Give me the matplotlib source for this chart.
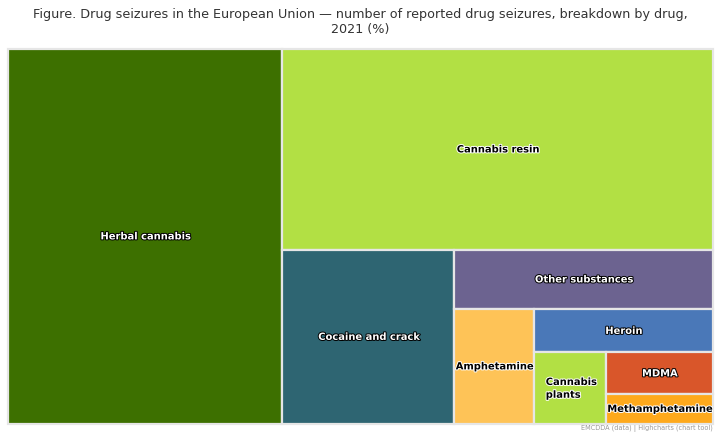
import matplotlib
matplotlib.use("Agg")
import matplotlib.pyplot as plt
from matplotlib.patches import Rectangle
import matplotlib.patheffects as pe

categories = ["Herbal cannabis", "Cannabis resin", "Cocaine and crack", "Other substances",
              "Amphetamine", "Heroin", "Cannabis\nplants", "MDMA", "Methamphetamine"]
values = [38.95, 32.72, 11.30, 5.77, 3.47, 2.97, 1.93, 1.66, 1.21]
colors = ["#3d7000", "#b2e044", "#2e6572", "#6c6390", "#fec357",
          "#4a78b8", "#b2e044", "#d9562a", "#fea91c"]
text_colors = ["white", "black", "white", "white", "black", "white", "black", "white", "black"]
title = "Figure. Drug seizures in the European Union \u2014 number of reported drug seizures, breakdown by drug,\n2021 (%)"
credit = "EMCDDA (data) | Highcharts (chart tool)"

plt.rcParams["font.family"] = "DejaVu Sans"
fig = plt.figure(figsize=(7.2, 4.35), dpi=100)
W, H = 720, 435
ax = fig.add_axes([7.5 / W, 1 - 424.5 / H, 705 / W, 375 / H])
ax.set_xlim(0, 1)
ax.set_ylim(1, 0)
ax.axis("off")

# Alternating slice layout, computed from the values
x, y, w, h = 0.0, 0.0, 1.0, 1.0
remaining = sum(values)
vertical = True
for i, (name, v, c, tc) in enumerate(zip(categories, values, colors, text_colors)):
    share = v / remaining
    if i == len(values) - 1:
        rx, ry, rw, rh = x, y, w, h
    elif vertical:
        rx, ry, rw, rh = x, y, w * share, h
        x += rw
        w -= rw
    else:
        rx, ry, rw, rh = x, y, w, h * share
        y += rh
        h -= rh
    remaining -= v
    vertical = not vertical
    ax.add_patch(Rectangle((rx, ry), rw, rh, facecolor=c, edgecolor="#e6e6e6", linewidth=1.6, clip_on=False))
    halo = "#000000" if tc == "white" else "#ffffff"
    cx = rx + rw / 2 + 0.001
    ha = "center"
    if "\n" in name:
        cx = rx + 0.017
        ha = "left"
    ax.text(cx, ry + rh / 2 + 0.001, name, ha=ha, va="center", color=tc, fontsize=7.15, fontweight="bold",
            linespacing=1.35, path_effects=[pe.withStroke(linewidth=1.4, foreground=halo)])

fig.text(360 / W, 1 - 22 / H, title, ha="center", va="center", fontsize=9.2, color="#333333", linespacing=1.2)
fig.text(713 / W, 1 - 428.5 / H, credit, ha="right", va="center", fontsize=4.7, color="#999999")
fig.savefig("out.png", dpi=100)
